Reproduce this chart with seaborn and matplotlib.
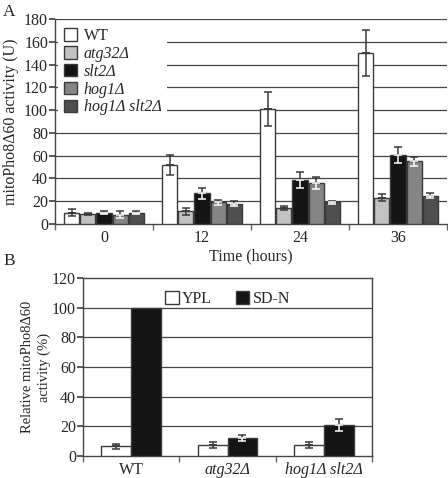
import matplotlib
matplotlib.use("Agg")
import matplotlib.pyplot as plt
import seaborn as sns
import pandas as pd
import numpy as np
from matplotlib.patches import Patch

sns.set_theme(style="white")
plt.rcParams['font.family'] = ['Liberation Serif', 'DejaVu Serif']
plt.rcParams['mathtext.fontset'] = 'stix'

# ---- Panel A data ----
times = ["0", "12", "24", "36"]
strains_a = ["WT", "atg32Δ", "slt2Δ", "hog1Δ", "hog1Δ slt2Δ"]
wt = [10, 52, 101, 150]
wt_err = [3, 9, 15, 20]
atg32 = [9, 11, 14, 23]
atg32_err = [1, 3, 2, 3]
slt2 = [10, 27, 39, 61]
slt2_err = [1, 5, 7, 7]
hog1 = [8, 19, 36, 55]
hog1_err = [3, 2, 5, 4]
hog1slt2 = [10, 18, 19, 25]
hog1slt2_err = [1, 2, 1, 2]
colors_a = ["#ffffff", "#c2c2c2", "#141414", "#858585", "#4f4f4f"]
inner_err_white = [False, False, True, True, True]

# ---- Panel B data ----
strains_b = ["WT", "atg32Δ", "hog1Δ slt2Δ"]
conditions = ["YPL", "SD-N"]
ypl = [6.5, 7.5, 7.5]
ypl_err = [1.5, 2, 2]
sdn = [100, 12, 21]
sdn_err = [0, 2, 4]
colors_b = ["#ffffff", "#141414"]

W, H = 448, 478
fig = plt.figure(figsize=(W / 100, H / 100), dpi=100)
fs = 11.5
edge = "#3a3a3a"

# ---------------- Panel A ----------------
axA = fig.add_axes([55 / W, 1 - 224 / H, 392 / W, 205 / H])
vals_a = [wt, atg32, slt2, hog1, hog1slt2]
errs_a = [wt_err, atg32_err, slt2_err, hog1_err, hog1slt2_err]
dfA = pd.DataFrame({
    "time": np.repeat([times], len(strains_a), axis=0).ravel(),
    "strain": np.repeat(strains_a, len(times)),
    "value": np.concatenate(vals_a),
})
sns.barplot(data=dfA, x="time", y="value", hue="strain", order=times,
            hue_order=strains_a, palette=colors_a, errorbar=None,
            width=0.82, gap=0.06, edgecolor=edge, linewidth=1.0,
            legend=False, ax=axA, zorder=3)
for cont, err, white_in in zip(axA.containers, errs_a, inner_err_white):
    for bar, e in zip(cont, err):
        x = bar.get_x() + bar.get_width() / 2
        y = bar.get_height()
        axA.errorbar(x, y, yerr=[[0], [e]], fmt="none", ecolor=edge,
                     elinewidth=1.1, capsize=3.2, capthick=1.1, zorder=4)
        axA.errorbar(x, y, yerr=[[e], [0]], fmt="none",
                     ecolor=("white" if white_in else edge),
                     elinewidth=1.1, capsize=3.2, capthick=1.1, zorder=4)

axA.set_ylim(0, 180)
axA.set_xlim(-0.5, 3.5)
axA.set_yticks(range(0, 181, 20))
for yv in range(20, 181, 20):
    axA.axhline(yv, color="#444444", lw=0.9, zorder=1)
axA.set_ylabel("mitoPho8Δ60 activity (U)", fontsize=fs, labelpad=4)
axA.set_xlabel("Time (hours)", fontsize=fs, labelpad=2)
axA.set_xticks(range(4))
axA.set_xticklabels(times, fontsize=fs)
axA.tick_params(axis="x", length=0, pad=4)
axA.set_xticks(np.arange(-0.5, 4.0, 1.0), minor=True)
axA.tick_params(axis="x", which="minor", length=4, color="#666666", direction="out", bottom=True)
axA.tick_params(axis="y", labelsize=fs, length=4, color="#444444", direction="out", left=True, pad=1)
for s in ["top", "right"]:
    axA.spines[s].set_visible(False)
for s in ["left", "bottom"]:
    axA.spines[s].set_color("#444444")
    axA.spines[s].set_linewidth(1.0)

handlesA = [Patch(facecolor=c, edgecolor=edge, linewidth=1.0) for c in colors_a]
legA = axA.legend(handlesA, strains_a, loc="upper left", bbox_to_anchor=(0.0, 1.0),
                  frameon=True, fontsize=fs, handlelength=0.85, handleheight=0.85,
                  handletextpad=0.4, labelspacing=0.12, borderpad=0.35,
                  borderaxespad=0.2)
legA.get_frame().set_edgecolor("none")
legA.get_frame().set_facecolor("white")
legA.get_frame().set_alpha(1)
legA.set_zorder(5)
for t in legA.get_texts()[1:]:
    t.set_fontstyle("italic")

fig.text(3 / W, 1 - 16 / H, "A", fontsize=fs + 1, ha="left", va="baseline")

# ---------------- Panel B ----------------
axB = fig.add_axes([83 / W, 1 - 456 / H, 289 / W, 178 / H])
dfB = pd.DataFrame({
    "strain": np.tile(strains_b, len(conditions)),
    "condition": np.repeat(conditions, len(strains_b)),
    "value": np.concatenate([ypl, sdn]),
})
sns.barplot(data=dfB, x="strain", y="value", hue="condition", order=strains_b,
            hue_order=conditions, palette=colors_b, errorbar=None,
            width=0.62, edgecolor=edge, linewidth=1.0, legend=False,
            ax=axB, zorder=3)
for cont, err, white_in in zip(axB.containers, [ypl_err, sdn_err], [False, True]):
    for bar, e in zip(cont, err):
        if e == 0:
            continue
        x = bar.get_x() + bar.get_width() / 2
        y = bar.get_height()
        axB.errorbar(x, y, yerr=[[0], [e]], fmt="none", ecolor=edge,
                     elinewidth=1.1, capsize=3.2, capthick=1.1, zorder=4)
        axB.errorbar(x, y, yerr=[[e], [0]], fmt="none",
                     ecolor=("white" if white_in else edge),
                     elinewidth=1.1, capsize=3.2, capthick=1.1, zorder=4)
axB.set_ylim(0, 120)
axB.set_xlim(-0.5, 2.5)
axB.set_yticks(range(0, 121, 20))
for yv in range(20, 101, 20):
    axB.axhline(yv, color="#444444", lw=0.9, zorder=1)
axB.set_ylabel("Relative mitoPho8Δ60\nactivity (%)", fontsize=10.5, labelpad=1,
               linespacing=1.35)
axB.set_xlabel("")
axB.set_xticks(range(3))
axB.set_xticklabels(strains_b, fontsize=fs)
for t in axB.get_xticklabels()[1:]:
    t.set_fontstyle("italic")
axB.tick_params(axis="x", length=0, pad=4)
axB.set_xticks(np.arange(-0.5, 3.0, 1.0), minor=True)
axB.tick_params(axis="x", which="minor", length=4, color="#666666", direction="out", bottom=True)
axB.tick_params(axis="y", labelsize=fs, length=4, color="#444444", direction="out", left=True, pad=1)
for s in ["left", "bottom", "top", "right"]:
    axB.spines[s].set_visible(True)
    axB.spines[s].set_color("#444444")
    axB.spines[s].set_linewidth(1.0)

handlesB = [Patch(facecolor=c, edgecolor=edge, linewidth=1.0) for c in colors_b]
legB = axB.legend(handlesB, conditions, loc="upper center", bbox_to_anchor=(0.5, 1.0),
                  ncol=2, frameon=False, fontsize=fs, handlelength=0.85,
                  handleheight=0.85, handletextpad=0.2, columnspacing=1.5,
                  borderaxespad=0.4)

fig.text(3 / W, 1 - 265 / H, "B", fontsize=fs + 1, ha="left", va="baseline")

fig.savefig("out.png", dpi=100)
